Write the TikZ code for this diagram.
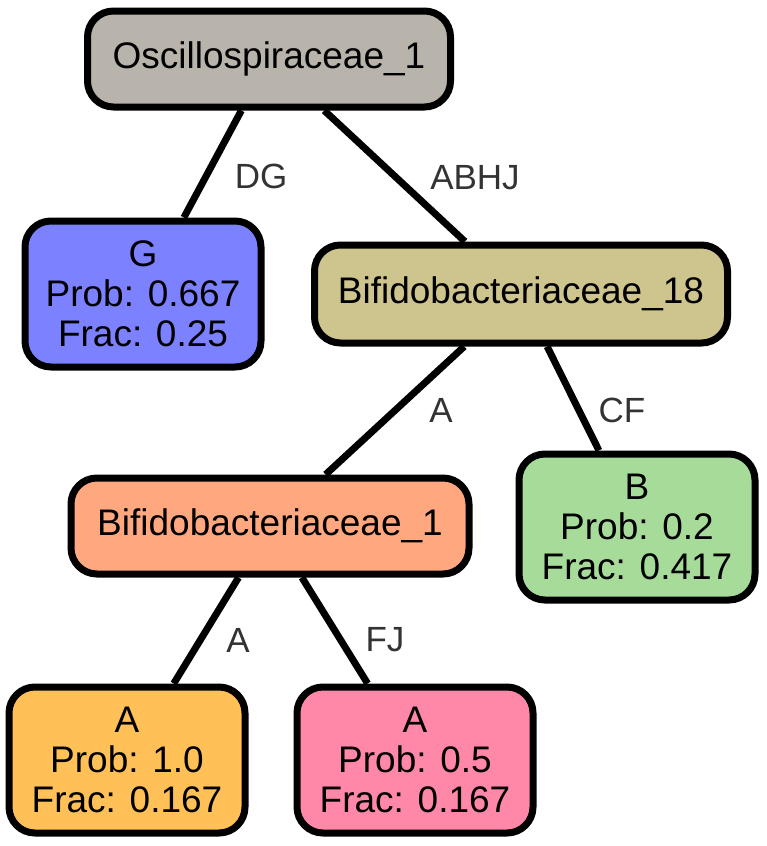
\documentclass[tikz,border=0pt]{standalone}
\usepackage{fontspec}
\setmainfont{Liberation Sans}
\definecolor{rootgray}{HTML}{B8B4AC}
\definecolor{leafblue}{HTML}{7B81FF}
\definecolor{bifkhaki}{HTML}{CEC48E}
\definecolor{bifsalmon}{HTML}{FFA880}
\definecolor{leafgreen}{HTML}{A6DB9A}
\definecolor{leaforange}{HTML}{FFC057}
\definecolor{leafpink}{HTML}{FF88A8}
\definecolor{labelgray}{HTML}{333333}

\begin{document}
\begin{tikzpicture}[x=1pt,y=-1pt,
    box/.style={draw=black, line width=7pt, rounded corners=26pt, inner sep=0pt,
      align=center, font=\fontsize{37}{40}\selectfont},
    leaf/.style={box, minimum width=236pt, minimum height=146pt},
    edgelbl/.style={text=labelgray, font=\fontsize{35}{38}\selectfont},
    link/.style={line width=7pt}]
    \useasboundingbox (0,0) rectangle (767,846);
    % inner nodes
    \node[box, fill=rootgray, minimum width=363pt, minimum height=96pt] (osc1) at (269,59) {Oscillospiraceae\_1};
    \node[box, fill=bifkhaki, minimum width=413pt, minimum height=98pt] (bif18) at (521,294) {Bifidobacteriaceae\_18};
    \node[box, fill=bifsalmon, minimum width=398pt, minimum height=96pt] (bif1) at (270,526) {Bifidobacteriaceae\_1};
    % leaves
    \node[leaf, fill=leafblue] (leafG) at (143,294) {G\\Prob: 0.667\\Frac: 0.25};
    \node[leaf, fill=leafgreen] (leafB) at (637,527) {B\\Prob: 0.2\\Frac: 0.417};
    \node[leaf, fill=leaforange] (leafA1) at (127,760) {A\\Prob: 1.0\\Frac: 0.167};
    \node[leaf, fill=leafpink] (leafA2) at (415,760) {A\\Prob: 0.5\\Frac: 0.167};
    % links
    \draw[link] (osc1) -- (leafG);
    \draw[link] (osc1) -- (bif18);
    \draw[link] (bif18) -- (bif1);
    \draw[link] (bif18) -- (leafB);
    \draw[link] (bif1) -- (leafA1);
    \draw[link] (bif1) -- (leafA2);
    % edge labels
    \node[edgelbl] (lblDG) at (261,176) {DG};
    \node[edgelbl] (lblABHJ) at (475,178) {ABHJ};
    \node[edgelbl] (lblA18) at (441,410) {A};
    \node[edgelbl] (lblCF) at (622,410) {CF};
    \node[edgelbl] (lblA1) at (238,640) {A};
    \node[edgelbl] (lblFJ) at (385,640) {FJ};
\end{tikzpicture}
\end{document}
